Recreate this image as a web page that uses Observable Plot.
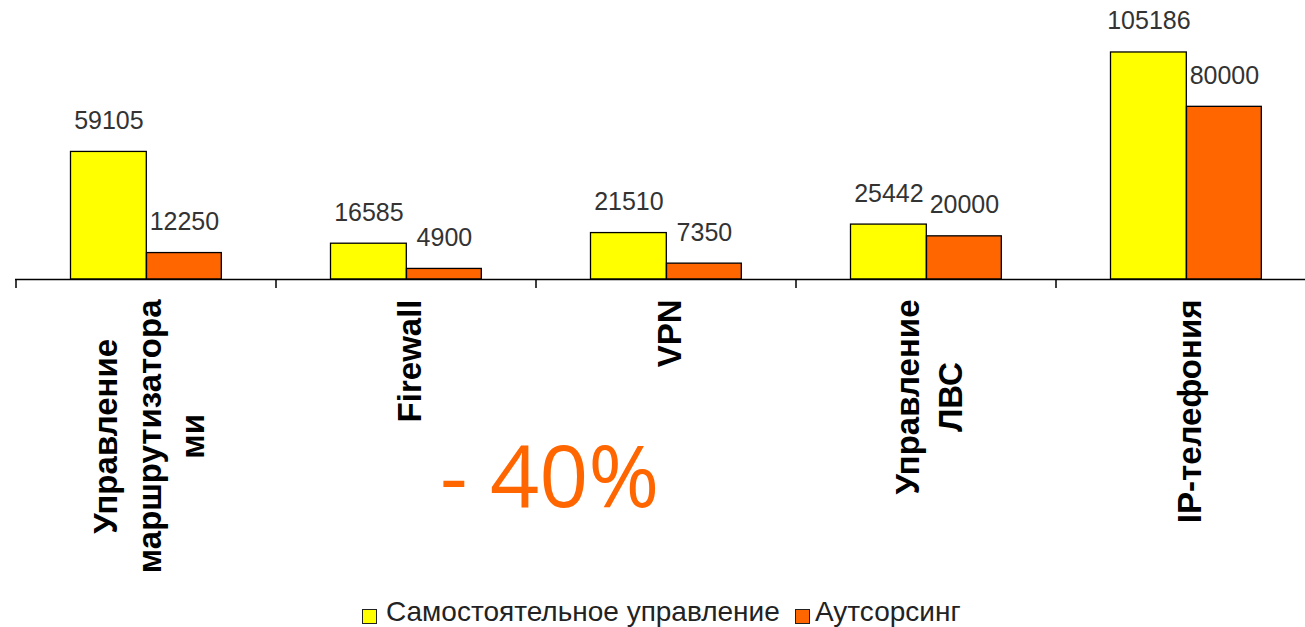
<!DOCTYPE html>
<html><head><meta charset="utf-8">
<script src="https://cdn.jsdelivr.net/npm/d3@7"></script>
<script src="https://cdn.jsdelivr.net/npm/@observablehq/plot@0.6"></script>
<style>
html,body{margin:0;padding:0;background:#fff;overflow:hidden;width:1305px;height:627px;}
#wrap{position:relative;width:1305px;height:627px;overflow:hidden;}
#chart{position:absolute;left:0;top:0;width:1316px;}
#chart svg{max-width:none !important;}
#big{position:absolute;left:440px;top:431px;font-family:"Open Sans",sans-serif;font-size:86px;line-height:86px;color:#FF6600;white-space:pre;}
.leg{position:absolute;top:598px;font-family:"Liberation Sans",Arial,sans-serif;font-size:28px;line-height:28px;color:#222;white-space:nowrap;}
.sw{position:absolute;top:609px;width:13px;height:13px;border:1px solid #222;}
g[aria-label="values"] text{letter-spacing:1px;}
</style></head><body>
<div id="wrap">
  <div id="chart"></div>
  <div id="big">- 40%</div>
  <div class="sw" id="sw0" style="left:362px;"></div><div class="leg" id="lg0" style="left:386px;"></div>
  <div class="sw" id="sw1" style="left:795px;"></div><div class="leg" id="lg1" style="left:815px;"></div>
</div>
<script>
const categories = ["Управление\nмаршрутизатора\nми", "Firewall", "VPN", "Управление\nЛВС", "IP-телефония"];
const seriesNames = ["Самостоятельное управление", "Аутсорсинг"];
const selfValues = [59105, 16585, 21510, 25442, 105186];
const outValues = [12250, 4900, 7350, 20000, 80000];
const seriesColors = ["#FFFF00", "#FF6600"];

const selfRows = categories.map((c, i) => ({category: c, value: selfValues[i]}));
const outRows = categories.map((c, i) => ({category: c, value: outValues[i]}));

const ctx = document.createElement("canvas").getContext("2d");
ctx.font = "bold 33px 'Liberation Sans'";
const labelMarks = categories.map(c => {
  const w = d3.max(c.split("\n"), s => ctx.measureText(s).width);
  return Plot.text([c], {
    x: d => d, y: () => 0, text: d => d, rotate: -90,
    textAnchor: "middle", lineAnchor: "middle", lineHeight: 1.33,
    dy: 20 + w / 2, fontSize: 33, fontWeight: "bold",
    fontFamily: "Liberation Sans", fill: "#000"
  });
});

function edgeTicks(index, scales) {
  const x = scales.x, y0 = scales.y(0);
  const step = x(categories[1]) - x(categories[0]);
  const edges = categories.map(c => x(c)).concat([x(categories[categories.length - 1]) + step]);
  const g = d3.create("svg:g").attr("stroke", "#000").attr("stroke-width", 1.5);
  g.selectAll("line").data(edges).join("line")
    .attr("x1", d => d).attr("x2", d => d).attr("y1", y0).attr("y2", y0 + 9);
  return g.node();
}

const plot = Plot.plot({
  width: 1316, height: 590,
  marginLeft: 15, marginRight: 0, marginTop: 20, marginBottom: 311,
  style: {background: "transparent", overflow: "visible", maxWidth: "none"},
  x: {type: "band", domain: categories, padding: 0, axis: null},
  y: {domain: [0, 120000], axis: null},
  marks: [
    Plot.barY(selfRows, {x: "category", y: "value", fill: seriesColors[0], stroke: "#000", strokeWidth: 1.3, insetLeft: 54.5, insetRight: 129.7}),
    Plot.barY(outRows, {x: "category", y: "value", fill: seriesColors[1], stroke: "#000", strokeWidth: 1.3, insetLeft: 130.5, insetRight: 54.7}),
    Plot.ruleY([0], {stroke: "#000", strokeWidth: 1.5}),
    edgeTicks,
    Plot.text(selfRows, {x: "category", y: "value", text: d => String(d.value), dx: -37.6, dy: -23, lineAnchor: "bottom", fontSize: 25, fill: "#333", fontFamily: "Liberation Sans", ariaLabel: "values"}),
    Plot.text(outRows, {x: "category", y: "value", text: d => String(d.value), dx: 37.9, dy: -23, lineAnchor: "bottom", fontSize: 25, fill: "#333", fontFamily: "Liberation Sans", ariaLabel: "values"}),
    ...labelMarks
  ]
});
document.getElementById("chart").appendChild(plot);

document.getElementById("sw0").style.background = seriesColors[0];
document.getElementById("sw1").style.background = seriesColors[1];
document.getElementById("lg0").textContent = seriesNames[0];
document.getElementById("lg1").textContent = seriesNames[1];
</script>
</body></html>
